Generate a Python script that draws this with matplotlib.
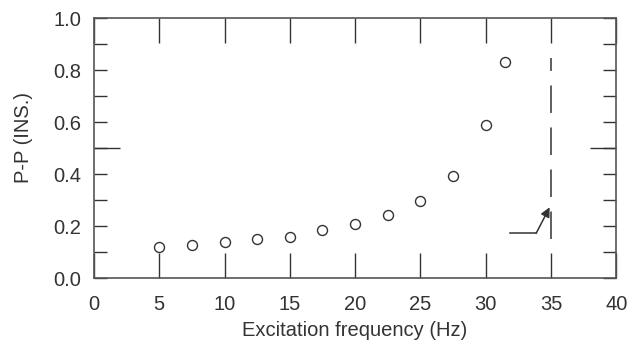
import numpy as np
import matplotlib.pyplot as plt
from matplotlib.ticker import FixedLocator, FuncFormatter

plt.rcParams['font.family'] = ['Liberation Sans', 'DejaVu Sans']

freq = [5, 7.5, 10, 12.5, 15, 17.5, 20, 22.5, 25, 27.5, 30, 31.5]
pp = [0.12, 0.127, 0.137, 0.149, 0.159, 0.185, 0.206, 0.242, 0.297, 0.392, 0.587, 0.832]

limit_freq = 35
limit_span = [0.15, 0.846]

ink = '#333333'
fs = 14.5
fig = plt.figure(figsize=(6.28, 3.47), dpi=100)
ax = fig.add_axes([0.1497, 0.1988, 0.8315, 0.7492])

ax.plot(freq, pp, 'o', ms=7.2, mfc='white', mec=ink, mew=1.0, zorder=3)

# limit line with dashes
ax.plot([limit_freq, limit_freq], limit_span, color=ink, lw=1.1,
        dashes=(18, 9.5))
# arrow pointing to the limit line
ax.plot([31.88, 33.87], [0.172, 0.172], color=ink, lw=1.1)
ax.annotate('', xy=(34.9, 0.272), xytext=(33.87, 0.172),
            arrowprops=dict(arrowstyle='-|>', color=ink, lw=1.1,
                            mutation_scale=14, shrinkA=0, shrinkB=0))

ax.set_xlim(0, 40)
ax.set_ylim(0, 1.0)

ax.xaxis.set_major_locator(FixedLocator(np.arange(0, 41, 5)))
ax.yaxis.set_major_locator(FixedLocator(np.round(np.arange(0, 1.01, 0.1), 1)))
ax.yaxis.set_major_formatter(FuncFormatter(
    lambda v, p: f'{v:.1f}' if round(v * 10) % 2 == 0 else ''))
ax.yaxis.set_minor_locator(FixedLocator([0.5]))
ax.yaxis.remove_overlapping_locs = False

ax.tick_params(axis='x', which='major', direction='in', length=18, width=1,
               top=True, color=ink, labelsize=fs, labelcolor=ink, pad=12.5)
ax.tick_params(axis='y', which='major', direction='in', length=9.5, width=1,
               right=True, color=ink, labelsize=fs, labelcolor=ink, pad=9)
ax.tick_params(axis='y', which='minor', direction='in', length=19, width=1,
               right=True, color=ink)

for s in ax.spines.values():
    s.set_color('#555555')
    s.set_linewidth(1.2)

ax.set_xlabel('Excitation frequency (Hz)', fontsize=fs, color=ink, labelpad=5)
ax.set_ylabel('P-P (INS.)', fontsize=fs, color=ink)
ax.yaxis.set_label_coords(-0.117, 0.54)

fig.savefig('out.png', dpi=100)
